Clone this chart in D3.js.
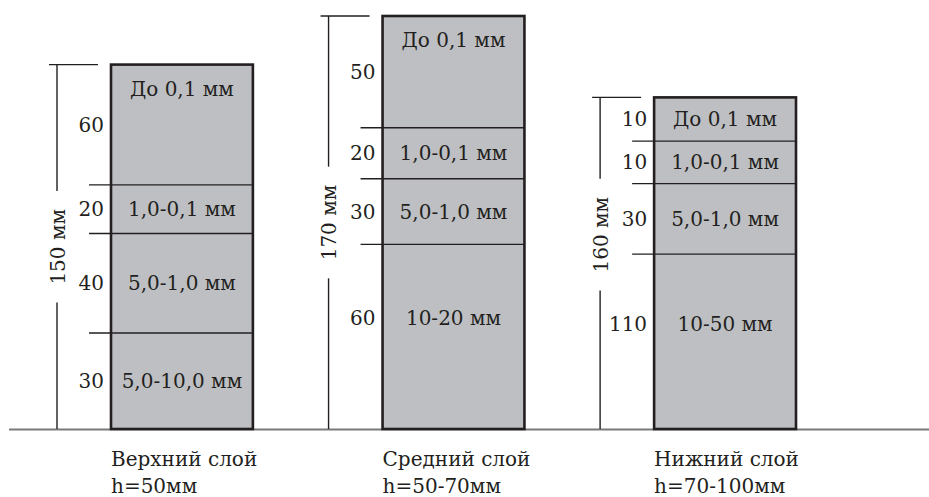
<!DOCTYPE html>
<html>
<head>
<meta charset="utf-8">
<script src="https://cdn.jsdelivr.net/npm/d3@7"></script>
<style>
  body { margin: 0; background: #fff; }
</style>
</head>
<body>
<svg id="chart"></svg>
<script>
// layers of the filter bed
const layerNames = ["Верхний слой", "Средний слой", "Нижний слой"];
const layerDepths = ["h=50мм", "h=50-70мм", "h=70-100мм"];
const layerTotals = [150, 170, 160];

// fractions, top -> bottom
const upperFractions = ["До 0,1 мм", "1,0-0,1 мм", "5,0-1,0 мм", "5,0-10,0 мм"];
const upperValues = [60, 20, 40, 30];
const upperDrawn = [49.5, 20, 41, 39.5]; // thickness as drawn in the scheme

const middleFractions = ["До 0,1 мм", "1,0-0,1 мм", "5,0-1,0 мм", "10-20 мм"];
const middleValues = [50, 20, 30, 60];
const middleDrawn = [46, 21, 27, 76];

const lowerFractions = ["До 0,1 мм", "1,0-0,1 мм", "5,0-1,0 мм", "10-50 мм"];
const lowerValues = [10, 10, 30, 110];
const lowerDrawn = [18, 17.5, 29, 72];

const width = 929, height = 497;
const colors = { fill: "#bebfc3", edge: "#231f20", ground: "#7a7a7a" };

const layers = [
  { fractions: upperFractions, values: upperValues, drawn: upperDrawn },
  { fractions: middleFractions, values: middleValues, drawn: middleDrawn },
  { fractions: lowerFractions, values: lowerValues, drawn: lowerDrawn }
].map((l, i) => {
  let acc = 0;
  const segs = l.drawn.map((d, j) => ({ j, d })).reverse().map(s => {
    const seg = { i, j: s.j, y0: acc, y1: acc + s.d, fraction: l.fractions[s.j], value: l.values[s.j] };
    acc += s.d;
    return seg;
  }).reverse();
  return { i, name: layerNames[i], depth: layerDepths[i], total: layerTotals[i], top: acc, segs };
});

const svg = d3.select('#chart').attr('width', width).attr('height', height);

const x = d3.scaleBand().domain(layerNames).range([111, 796]).paddingInner(0.4775).paddingOuter(0);
const y = d3.scaleLinear().domain([0, 170]).range([429, 16]);

// ground
svg.append('line').attr('x1', 9).attr('x2', width).attr('y1', y(0) + 0.5).attr('y2', y(0) + 0.5)
  .style('stroke', colors.ground).style('stroke-width', 2);

const col = svg.selectAll('g.col').data(layers).enter().append('g').attr('class', 'col');

col.selectAll('rect').data(d => d.segs).enter().append('rect')
  .attr('x', d => x(layerNames[d.i])).attr('width', x.bandwidth())
  .attr('y', d => y(d.y1)).attr('height', d => y(d.y0) - y(d.y1))
  .style('fill', colors.fill);

// dividers, reaching left of the column
col.selectAll('line.div').data(d => d.segs.filter(s => s.y0 > 0)).enter().append('line').attr('class', 'div')
  .attr('x1', d => x(layerNames[d.i]) - 22).attr('x2', d => x(layerNames[d.i]) + x.bandwidth())
  .attr('y1', d => y(d.y0)).attr('y2', d => y(d.y0))
  .style('stroke', colors.edge).style('stroke-width', 1.4);

// outline
col.append('rect')
  .attr('x', d => x(d.name)).attr('width', x.bandwidth())
  .attr('y', d => y(d.top)).attr('height', d => y(0) - y(d.top))
  .style('fill', 'none').style('stroke', colors.edge).style('stroke-width', 2.6);

const anchorY = (s, fractionLabel) => {
  const top = y(s.y1), h = y(s.y0) - y(s.y1);
  if (s.j === 0) return fractionLabel && h > 60 ? top + 24 : top + h / 2;
  return top + (h > 150 ? 0.4 * h : 0.5 * h);
};

// only DejaVu Serif resolves to a serif face here
const txt = sel => sel.style('font-size', '20px').style('fill', colors.edge).style('font-family', '"DejaVu Serif", serif');

col.selectAll('text.frac').data(d => d.segs).enter().append('text').attr('class', 'frac')
  .attr('x', d => x(layerNames[d.i]) + x.bandwidth() / 2).attr('y', d => anchorY(d, true))
  .attr('dy', '0.35em').attr('text-anchor', 'middle').call(txt)
  .text(d => d.fraction);

col.selectAll('text.val').data(d => d.segs).enter().append('text').attr('class', 'val')
  .attr('x', d => x(layerNames[d.i]) - 7).attr('y', d => anchorY(d, false))
  .attr('dy', '0.35em').attr('text-anchor', 'end').call(txt)
  .text(d => d.value);

// total thickness dimension
col.append('line')
  .attr('x1', d => x(d.name) - 62).attr('x2', d => x(d.name) - 13)
  .attr('y1', d => y(d.top)).attr('y2', d => y(d.top))
  .style('stroke', colors.edge).style('stroke-width', 1.4);

col.each(function (d) {
  const g = d3.select(this);
  const lx = x(d.name) - 54, yc = y(d.total / 2);
  const t = g.append('text').attr('transform', `translate(${lx + 0.5},${yc}) rotate(-90)`)
    .attr('dy', '0.35em').attr('text-anchor', 'middle').call(txt)
    .text(`${d.total} мм`);
  const half = t.node().getComputedTextLength() / 2 + 18;
  g.append('line').attr('x1', lx).attr('x2', lx).attr('y1', y(d.top)).attr('y2', yc - half)
    .style('stroke', colors.edge).style('stroke-width', 1.4);
  g.append('line').attr('x1', lx).attr('x2', lx).attr('y1', yc + half).attr('y2', y(0))
    .style('stroke', colors.edge).style('stroke-width', 1.4);
});

// captions
col.append('text').attr('x', d => x(d.name)).attr('y', y(0) + 37).call(txt).text(d => d.name);
col.append('text').attr('x', d => x(d.name)).attr('y', y(0) + 64).call(txt).text(d => d.depth);
</script>
</body>
</html>
